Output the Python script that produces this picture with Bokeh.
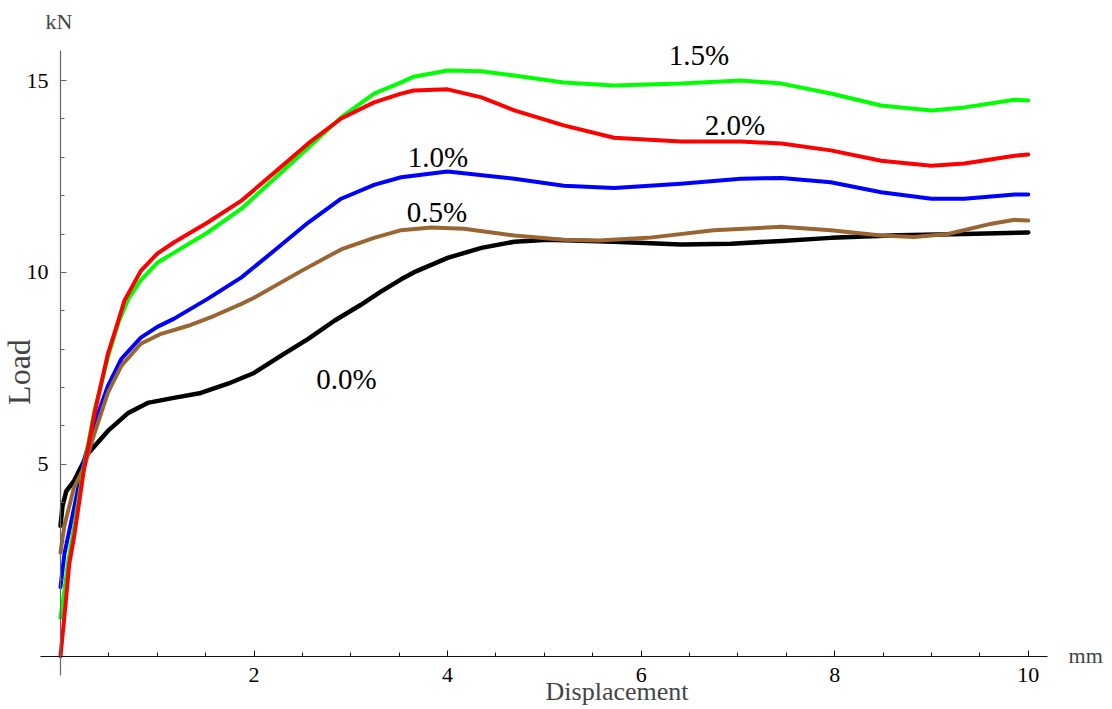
from bokeh.plotting import figure
from bokeh.models import Range1d, FixedTicker, Label, ColumnDataSource
from bokeh.embed import file_html
from bokeh.resources import INLINE
import math

# ---- data ----
black_x = [0, 0.02, 0.06, 0.14, 0.28, 0.49, 0.70, 0.90, 1.17, 1.45, 1.73, 2.0, 2.28, 2.56, 2.83,
           3.1, 3.31, 3.52, 3.65, 4.0, 4.35, 4.69, 5.04, 5.72, 6.41, 6.93, 7.45, 7.96, 8.66, 9.34, 10.0]
black_y = [3.4, 3.9, 4.3, 4.57, 5.27, 5.87, 6.34, 6.6, 6.73, 6.86, 7.1, 7.38, 7.83, 8.27, 8.74,
           9.15, 9.5, 9.82, 10.0, 10.38, 10.64, 10.8, 10.85, 10.8, 10.73, 10.75, 10.82, 10.9, 10.97, 11.0, 11.04]

brown_x = [0, 0.04, 0.14, 0.24, 0.35, 0.49, 0.63, 0.83, 1.04, 1.32, 1.59, 1.87, 2.0, 2.49, 2.9,
           3.24, 3.52, 3.83, 4.17, 4.69, 5.2, 5.56, 6.07, 6.75, 7.45, 7.96, 8.48, 8.82, 9.17, 9.62, 9.86, 10.0]
brown_y = [2.7, 3.4, 4.4, 4.9, 5.8, 6.87, 7.57, 8.14, 8.4, 8.61, 8.87, 9.18, 9.34, 10.04, 10.6,
           10.9, 11.1, 11.17, 11.14, 10.96, 10.85, 10.83, 10.9, 11.1, 11.19, 11.1, 10.96, 10.92, 11.0, 11.27, 11.37, 11.35]

blue_x = [0, 0.04, 0.14, 0.24, 0.35, 0.49, 0.63, 0.83, 1.0, 1.17, 1.52, 1.87, 2.21, 2.56, 2.9,
          3.24, 3.52, 4.0, 4.69, 5.2, 5.72, 6.41, 7.03, 7.45, 7.96, 8.48, 9.0, 9.34, 9.86, 10.0]
blue_y = [1.8, 2.66, 3.86, 5.08, 6.05, 7.04, 7.75, 8.3, 8.58, 8.79, 9.31, 9.87, 10.57, 11.3, 11.92,
          12.28, 12.48, 12.63, 12.44, 12.26, 12.2, 12.31, 12.44, 12.46, 12.35, 12.09, 11.92, 11.92, 12.03, 12.03]

green_x = [0, 0.04, 0.08, 0.14, 0.24, 0.35, 0.49, 0.6, 0.7, 0.83, 1.0, 1.17, 1.52, 1.87, 2.21, 2.56,
           2.9, 3.24, 3.52, 3.65, 4.0, 4.35, 4.69, 5.2, 5.72, 6.41, 7.03, 7.45, 7.96, 8.48, 9.0, 9.34, 9.86, 10.0]
green_y = [1.0, 1.7, 2.48, 3.34, 4.9, 6.39, 7.8, 8.7, 9.3, 9.8, 10.25, 10.51, 11.04, 11.66, 12.44, 13.25,
           14.04, 14.66, 14.95, 15.1, 15.26, 15.24, 15.13, 14.95, 14.87, 14.92, 15.0, 14.92, 14.66, 14.35, 14.22, 14.3, 14.5, 14.48]

red_x = [0, 0.05, 0.09, 0.14, 0.24, 0.35, 0.49, 0.58, 0.66, 0.83, 1.0, 1.17, 1.52, 1.87, 2.21, 2.56,
         2.9, 3.24, 3.52, 3.65, 4.0, 4.35, 4.69, 5.2, 5.72, 6.41, 7.03, 7.45, 7.96, 8.48, 9.0, 9.34, 9.86, 10.0]
red_y = [0, 1.3, 2.4, 3.1, 4.83, 6.31, 7.88, 8.6, 9.26, 10.04, 10.49, 10.78, 11.3, 11.87, 12.6, 13.36,
         14.01, 14.43, 14.66, 14.74, 14.77, 14.56, 14.22, 13.83, 13.51, 13.41, 13.41, 13.36, 13.18, 12.91, 12.78, 12.84, 13.04, 13.07]

series_labels = ["0.0%", "0.5%", "1.0%", "1.5%", "2.0%"]
label_x = [2.955, 3.891, 3.901, 6.598, 6.970]
label_y = [7.222, 11.587, 13.020, 15.677, 13.854]

x_major = [2, 4, 6, 8, 10]
x_minor = [0.5, 1, 1.5, 2.5, 3, 3.5, 4.5, 5, 5.5, 6.5, 7, 7.5, 8.5, 9, 9.5]
y_major = [5, 10, 15]
y_minor = [1, 2, 3, 4, 6, 7, 8, 9, 11, 12, 13, 14]

FONT = "Liberation Serif"

W, H = 1110, 707
p = figure(width=W, height=H,
           x_range=Range1d(-0.620, 10.850), y_range=Range1d(-1.3367, 17.085),
           output_backend="svg", toolbar_location=None,
           min_border=0, min_border_left=0, min_border_right=0,
           min_border_top=0, min_border_bottom=0)
p.outline_line_color = None
p.xgrid.visible = False
p.ygrid.visible = False
p.background_fill_color = "white"
p.border_fill_color = "white"

for ax, ticks, minor, col, standoff, bounds in (
        (p.xaxis, x_major, x_minor, "#111111", 12, (-0.2067, 10.1995)),
        (p.yaxis, y_major, y_minor, "#666666", 12, (-0.503, 15.782))):
    ax.fixed_location = 0
    ax.bounds = bounds
    ax.ticker = FixedTicker(ticks=ticks, minor_ticks=minor)
    ax.major_tick_in = 6
    ax.major_tick_out = 0
    ax.minor_tick_in = 4
    ax.minor_tick_out = 0
    ax.axis_line_color = col
    ax.major_tick_line_color = col
    ax.minor_tick_line_color = col
    ax.axis_line_width = 1.2
    ax.major_label_text_font = FONT
    ax.major_label_text_font_size = "22px"
    ax.major_label_text_color = "black"
    ax.major_label_standoff = standoff

curves = [
    (black_x, black_y, "#000000", 4.5),
    (blue_x, blue_y, "#0000ff", 4),
    (brown_x, brown_y, "#996633", 4),
    (green_x, green_y, "#00ff00", 4),
    (red_x, red_y, "#ff0000", 4),
]
for xs, ys, c, w in curves:
    src = ColumnDataSource(dict(x=xs, y=ys))
    p.line("x", "y", source=src, line_color=c, line_width=w, line_join="round", line_cap="round")

for t, lx, ly in zip(series_labels, label_x, label_y):
    p.add_layout(Label(x=lx, y=ly, text=t, text_font=FONT, text_font_size="29px",
                       text_align="center", text_baseline="middle", text_color="black"))

p.add_layout(Label(x=-0.0155, y=16.55, text="kN", text_font=FONT, text_font_size="22px",
                   text_align="center", text_baseline="middle"))
p.add_layout(Label(x=10.4165, y=0.026, text="mm", text_font=FONT, text_font_size="22px",
                   text_align="left", text_baseline="middle"))
p.add_layout(Label(x=5.751, y=-0.93, text="Displacement", text_font=FONT, text_font_size="26px",
                   text_align="center", text_baseline="middle"))
p.add_layout(Label(x=-0.4237, y=7.405, text="Load", text_font=FONT, text_font_size="32px",
                   text_align="center", text_baseline="middle", angle=math.pi / 2))

open("out.html", "w").write(file_html(p, INLINE))
